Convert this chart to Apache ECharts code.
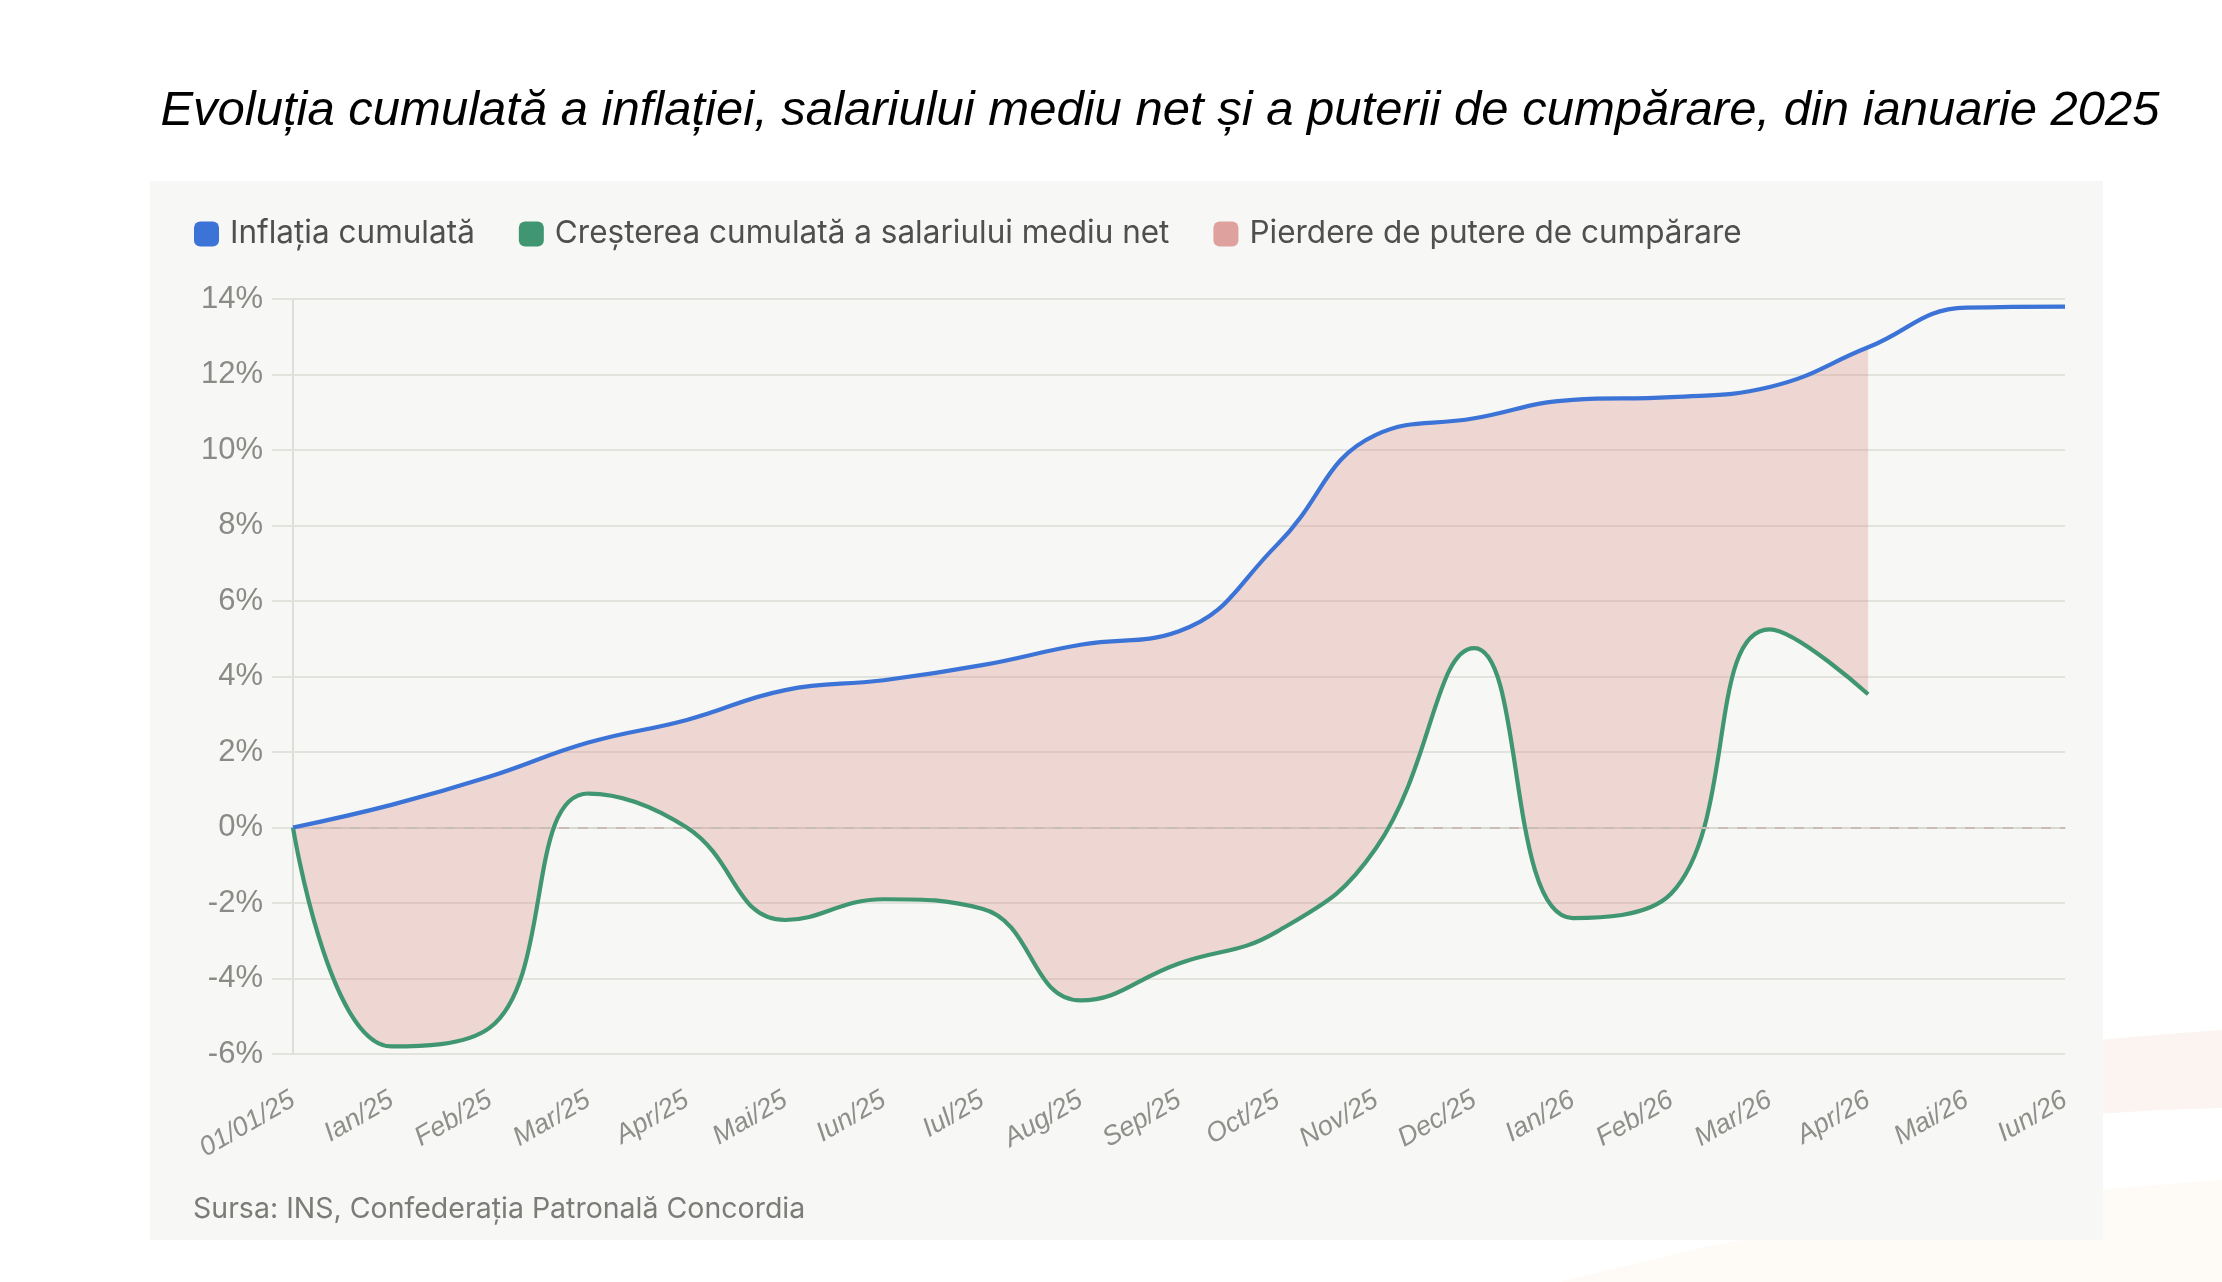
<!DOCTYPE html>
<html>
<head>
<meta charset="utf-8">
<script src="https://cdn.jsdelivr.net/npm/echarts@6/dist/echarts.min.js"></script>
<style>
  html, body { margin: 0; padding: 0; background: #ffffff; }
  #main { width: 2222px; height: 1282px; }
</style>
</head>
<body>
<div id="main"></div>
<script>
// date pe axa x
var luni = ['01/01/25', 'Ian/25', 'Feb/25', 'Mar/25', 'Apr/25', 'Mai/25', 'Iun/25', 'Iul/25',
  'Aug/25', 'Sep/25', 'Oct/25', 'Nov/25', 'Dec/25', 'Ian/26', 'Feb/26', 'Mar/26', 'Apr/26',
  'Mai/26', 'Iun/26'];

// inflatia cumulata (%)
var inflatie = [0, 0.6, 1.35, 2.25, 2.85, 3.64, 3.9, 4.3, 4.84, 5.2, 7.5, 10.4, 10.84,
  11.33, 11.4, 11.67, 12.72, 13.77, 13.8];

// cresterea cumulata a salariului mediu net (%)
var salariu = [0, -5.8, -5.3, 0.9, 0.0, -2.45, -1.9, -2.15, -4.58, -3.6, -2.75, -0.55,
  4.75, -2.4, -1.75, 5.25, 3.53, null, null];

var yTicks = { min: -6, max: 14, interval: 2 };

var numeInflatie = 'Inflația cumulată';
var numeSalariu = 'Creșterea cumulată a salariului mediu net';
var numePierdere = 'Pierdere de putere de cumpărare';

// diferenta dintre cele doua curbe, pentru zona colorata
var pierdere = salariu.map(function (v, i) {
  return v === null ? null : +(inflatie[i] - v).toFixed(2);
});

var myChart = echarts.init(document.getElementById('main'));

var option = {
  backgroundColor: '#ffffff',
  animation: false,
  title: {
    text: 'Evoluția cumulată a inflației, salariului mediu net și a puterii de cumpărare, din ianuarie 2025',
    left: 1155,
    textAlign: 'center',
    top: 82,
    textStyle: {
      fontFamily: 'Liberation Sans',
      fontStyle: 'italic',
      fontWeight: 'normal',
      fontSize: 49,
      color: '#000000'
    }
  },
  graphic: [
    // fundal decorativ, colt dreapta jos
    {
      type: 'polygon',
      z: -20,
      shape: {
        points: [[2000, 1052], [2060, 1044], [2120, 1038], [2180, 1033], [2222, 1030],
          [2222, 1108], [2160, 1110], [2080, 1115], [2000, 1124]]
      },
      style: { fill: '#fcf4f0' },
      silent: true
    },
    {
      type: 'polygon',
      z: -20,
      shape: {
        points: [[1560, 1282], [1700, 1248], [1850, 1220], [2000, 1200], [2120, 1188],
          [2222, 1180], [2222, 1282]]
      },
      style: { fill: '#fefaf6' },
      silent: true
    },
    {
      type: 'rect',
      z: -10,
      shape: { x: 150, y: 181, width: 1953, height: 1059 },
      style: { fill: '#f7f7f5' },
      silent: true
    },
    {
      type: 'text',
      left: 193,
      top: 1195,
      style: {
        text: 'Sursa: INS, Confederația Patronală Concordia',
        fontFamily: 'Inter',
        fontSize: 28.5,
        fill: '#7b7b78'
      },
      silent: true
    }
  ],
  legend: {
    left: 194,
    top: 218,
    padding: 0,
    itemWidth: 25,
    itemHeight: 25,
    itemGap: 44,
    icon: 'roundRect',
    data: [numeInflatie, numeSalariu, numePierdere],
    textStyle: {
      fontFamily: 'Inter',
      fontSize: 31.5,
      color: '#4f4f4d',
      padding: [0, 0, 0, 6]
    }
  },
  grid: {
    left: 293,
    right: 157,
    top: 299,
    bottom: 228
  },
  xAxis: {
    type: 'category',
    data: luni,
    boundaryGap: false,
    axisLine: { show: true, lineStyle: { color: '#d8d8d4', width: 2 } },
    axisTick: { show: false },
    splitLine: { show: false },
    axisLabel: {
      rotate: 30,
      margin: 44,
      fontFamily: 'Liberation Sans',
      fontStyle: 'italic',
      fontSize: 27,
      color: '#8e8e8b'
    }
  },
  yAxis: {
    type: 'value',
    min: yTicks.min,
    max: yTicks.max,
    interval: yTicks.interval,
    axisLine: { show: true, lineStyle: { color: '#deded9', width: 2 } },
    axisTick: { show: true, length: 21, lineStyle: { color: '#e3e3de', width: 2 } },
    splitLine: { show: true, lineStyle: { color: '#e3e3de', width: 2 } },
    axisLabel: {
      formatter: '{value}%',
      margin: 30,
      fontFamily: 'Liberation Sans',
      fontSize: 31,
      color: '#8a8a87'
    }
  },
  series: [
    {
      name: numeSalariu,
      type: 'line',
      data: salariu,
      stack: 'gap',
      stackStrategy: 'all',
      smooth: 0.45,
      showSymbol: false,
      z: 4,
      itemStyle: { color: '#3f9670' },
      lineStyle: { color: '#3f9670', width: 4.2 }
    },
    {
      name: numePierdere,
      type: 'line',
      data: pierdere,
      stack: 'gap',
      stackStrategy: 'all',
      smooth: 0.45,
      showSymbol: false,
      z: 2,
      itemStyle: { color: '#dea19d' },
      lineStyle: { width: 0, opacity: 0 },
      areaStyle: { color: 'rgba(214, 128, 122, 0.4)' }
    },
    {
      name: numeInflatie,
      type: 'line',
      data: inflatie,
      smooth: 0.45,
      showSymbol: false,
      z: 5,
      itemStyle: { color: '#3c73d6' },
      lineStyle: { color: '#3c73d6', width: 4.2 },
      markLine: {
        silent: true,
        symbol: 'none',
        label: { show: false },
        lineStyle: { color: '#c8bcb4', width: 2, type: [10, 9] },
        data: [{ yAxis: 0 }]
      }
    }
  ]
};

myChart.setOption(option);
</script>
</body>
</html>
